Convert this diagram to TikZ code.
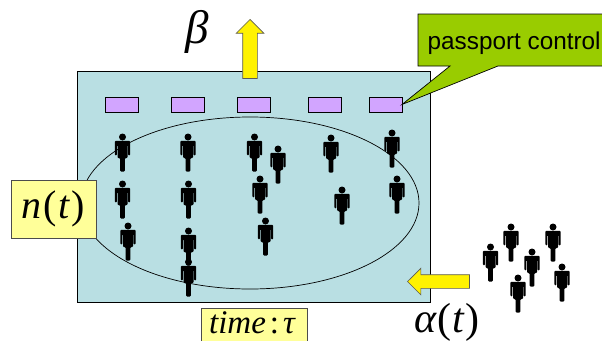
\documentclass[tikz,border=0pt]{standalone}
\usepackage{fontspec}
\setmainfont{Liberation Serif}
\setsansfont{Liberation Sans}
\usepackage{xcolor}
\usetikzlibrary{shapes.geometric, shapes.arrows, positioning}

\definecolor{roomblue}{HTML}{B9DFE3}
\definecolor{deskviolet}{HTML}{D2A5FF}
\definecolor{noteyellow}{HTML}{FFFF99}
\definecolor{calloutgreen}{HTML}{99CC00}

\tikzset{
    pics/person/.style={code={
        \fill (0,0) circle (3.5);
        \fill[rounded corners=1pt] (-7.6,3.8) -- (7.6,3.8) -- (7.6,18.4) -- (5.6,18.4) -- (5.6,8) -- (5,8)
            -- (5,21) -- (2.4,21) -- (2.4,34.5) -- (-2.4,34.5) -- (-2.4,21) -- (-5,21) -- (-5,8)
            -- (-5.6,8) -- (-5.6,18.4) -- (-7.6,18.4) -- cycle;
    }}
}

\begin{document}
\begin{tikzpicture}[x=1pt, y=-1pt, line join=miter]
    % Node Styles
    \tikzstyle{room} = [rectangle, draw, fill=roomblue, line width=0.9pt, minimum width=353pt, minimum height=231pt, inner sep=0pt]
    \tikzstyle{crowd} = [ellipse, draw, line width=0.7pt, minimum width=338pt, minimum height=172pt, inner sep=0pt]
    \tikzstyle{desk} = [rectangle, draw, fill=deskviolet, line width=0.7pt, minimum width=33pt, minimum height=15pt, inner sep=0pt, outer sep=0pt]
    \tikzstyle{note} = [rectangle, draw=black!70, fill=noteyellow, line width=0.7pt, inner sep=0pt]
    \tikzstyle{flow} = [single arrow, draw=black!65, fill=yellow, line width=0.7pt, inner sep=0pt, single arrow head extend=6.5pt, single arrow tip angle=90, anchor=tip]
    \tikzstyle{symbol} = [inner sep=0pt, font=\fontsize{40}{40}\selectfont\itshape]

    \useasboundingbox (0,0) rectangle (602,340);

    % Room
    \node [room] (hall) at (253.5,186.5) {};
    \node [crowd] (queue) at (250,203) {};

    % Desks
    \node [desk] (desk1) at (121.5,104.5) {};
    \node [desk, right=33pt of desk1] (desk2) {};
    \node [desk, right=33pt of desk2] (desk3) {};
    \node [desk, right=38pt of desk3] (desk4) {};
    \node [desk, right=28pt of desk4] (desk5) {};

    % People
    \foreach \px/\py in {122.5/137, 188/137, 254.5/137, 278/149, 331/138, 392/133,
                         122.5/184, 188.5/184, 260/179, 397/179, 342/190,
                         128/226, 265.5/221, 188.5/231, 188.5/262,
                         490.5/247, 511/227, 553/227, 532/252, 518/278, 562/267}
        \pic at (\px,\py) {person};

    % Callout
    \draw [draw=black, fill=calloutgreen, line width=0.7pt] (418,14) -- (604,14) -- (604,66) -- (498,66) -- (desk5.east) -- (450,66) -- (418,66) -- cycle;
    \node [inner sep=0pt, anchor=base west, font=\sffamily\fontsize{24.3}{24.3}\selectfont] (label) at (427.5,49) {passport control};

    % Flows
    \node [flow, rotate=90, minimum width=26pt, minimum height=59pt, inner sep=7pt] (exit) at (250,19) {};
    \node [flow, rotate=180, minimum width=24pt, minimum height=62pt, inner sep=6.5pt] (entry) at (407,281.5) {};

    % Labels
    \node [note, minimum width=85pt, minimum height=58pt] (count) at (53.5,209) {};
    \node [symbol] (countlabel) at (count) {n\kern1.5pt{\upshape(}\kern2pt t\kern2pt{\upshape)}};
    \node [note, minimum width=106pt, minimum height=40pt, anchor=north west] (duration) at (201,308) {};
    \node [inner sep=0pt, anchor=base, font=\fontsize{33}{33}\selectfont\itshape] (durationlabel) at (252,333.5) {time\kern4pt{\upshape:}\kern4pt τ};
    \node [symbol, anchor=base, font=\fontsize{47}{47}\selectfont\itshape] (leave) at (197,43) {β};
    \node [symbol, anchor=base, font=\fontsize{42}{42}\selectfont\itshape] (arrive) at (447,332) {α\kern1pt{\upshape(}\kern1.5pt t\kern1pt{\upshape)}};
\end{tikzpicture}
\end{document}
